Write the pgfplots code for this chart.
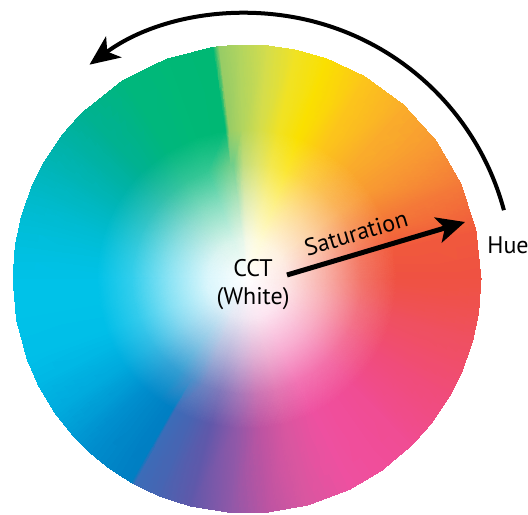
\documentclass[border=0pt]{standalone}
\usepackage{pgfplots}
\pgfplotsset{compat=1.18}
\usetikzlibrary{arrows.meta}
\usepackage{fontspec}
\setmainfont{PT Sans}
\definecolor{c0}{HTML}{EF5242}
\definecolor{c1}{HTML}{F15A3C}
\definecolor{c2}{HTML}{F47A38}
\definecolor{c3}{HTML}{F89A32}
\definecolor{c4}{HTML}{FAAE2A}
\definecolor{c5}{HTML}{FCC61A}
\definecolor{c6}{HTML}{FAE000}
\definecolor{c7}{HTML}{F0E224}
\definecolor{c8}{HTML}{D4DD4C}
\definecolor{c9}{HTML}{B0D460}
\definecolor{c10}{HTML}{96CC66}
\definecolor{c11}{HTML}{00B874}
\definecolor{c12}{HTML}{00B977}
\definecolor{c13}{HTML}{00B67E}
\definecolor{c14}{HTML}{00B193}
\definecolor{c15}{HTML}{00B2A4}
\definecolor{c16}{HTML}{00B5B6}
\definecolor{c17}{HTML}{00B9C6}
\definecolor{c18}{HTML}{00BDD6}
\definecolor{c19}{HTML}{00C0E0}
\definecolor{c20}{HTML}{00C2E8}
\definecolor{c21}{HTML}{00C1E8}
\definecolor{c22}{HTML}{00BEE8}
\definecolor{c23}{HTML}{00B6E4}
\definecolor{c24}{HTML}{00AADD}
\definecolor{c25}{HTML}{009AD4}
\definecolor{c26}{HTML}{008CCC}
\definecolor{c27}{HTML}{0084C6}
\definecolor{c28}{HTML}{007DC2}
\definecolor{c29}{HTML}{3C6CB8}
\definecolor{c30}{HTML}{4864B2}
\definecolor{c31}{HTML}{6058AA}
\definecolor{c32}{HTML}{9058A8}
\definecolor{c33}{HTML}{BC54A2}
\definecolor{c34}{HTML}{DA56A0}
\definecolor{c35}{HTML}{EE50A0}
\definecolor{c36}{HTML}{F04E9A}
\definecolor{c37}{HTML}{F04C92}
\definecolor{c38}{HTML}{F04C86}
\definecolor{c39}{HTML}{F04C7A}
\definecolor{c40}{HTML}{F04E6C}
\definecolor{c41}{HTML}{EF5060}
\definecolor{c42}{HTML}{EF5150}
\definecolor{mA}{HTML}{4BC26D}
\definecolor{mB}{HTML}{1E74BD}
\begin{document}
\begin{tikzpicture}
\begin{axis}[
  x=0.5pt, y=0.5pt,
  xmin=-247, xmax=281, ymin=-235, ymax=279,
  hide axis, clip=false,
]
\addplot[surf, shader=interp, mesh/color input=explicit, mesh/cols=6, data cs=polar]
table[x=a, y=r, meta=c] {
a r c
0 0 color=white
0 40 color=c0!15!white
0 80 color=c0!47!white
0 115 color=c0!80!white
0 150 color=c0
0 234 color=c0

12 0 color=white
12 40 color=c1!15!white
12 80 color=c1!47!white
12 115 color=c1!80!white
12 150 color=c1
12 234 color=c1

24 0 color=white
24 40 color=c2!15!white
24 80 color=c2!47!white
24 115 color=c2!80!white
24 150 color=c2
24 234 color=c2

36 0 color=white
36 40 color=c3!15!white
36 80 color=c3!47!white
36 115 color=c3!80!white
36 150 color=c3
36 234 color=c3

48 0 color=white
48 40 color=c4!15!white
48 80 color=c4!47!white
48 115 color=c4!80!white
48 150 color=c4
48 234 color=c4

60 0 color=white
60 40 color=c5!15!white
60 80 color=c5!47!white
60 115 color=c5!80!white
60 150 color=c5
60 234 color=c5

70 0 color=white
70 40 color=c6!15!white
70 80 color=c6!47!white
70 115 color=c6!80!white
70 150 color=c6
70 234 color=c6

78 0 color=white
78 40 color=c7!15!white
78 80 color=c7!47!white
78 115 color=c7!80!white
78 150 color=c7
78 234 color=c7

85 0 color=white
85 40 color=c8!15!white
85 80 color=c8!47!white
85 115 color=c8!80!white
85 150 color=c8
85 234 color=c8

92 0 color=white
92 40 color=c9!15!white
92 80 color=c9!47!white
92 115 color=c9!80!white
92 150 color=c9
92 234 color=c9

97 0 color=white
97 40 color=mA!15!white
97 80 color=mA!47!white
97 115 color=mA!80!white
97 150 color=c10
97 234 color=c10

98.5 0 color=white
98.5 40 color=mA!15!white
98.5 80 color=mA!47!white
98.5 115 color=mA!80!white
98.5 150 color=c11
98.5 234 color=c11

110 0 color=white
110 40 color=c12!15!white
110 80 color=c12!47!white
110 115 color=c12!80!white
110 150 color=c12
110 234 color=c12

122 0 color=white
122 40 color=c13!15!white
122 80 color=c13!47!white
122 115 color=c13!80!white
122 150 color=c13
122 234 color=c13

135 0 color=white
135 40 color=c14!15!white
135 80 color=c14!47!white
135 115 color=c14!80!white
135 150 color=c14
135 234 color=c14

142 0 color=white
142 40 color=c15!15!white
142 80 color=c15!47!white
142 115 color=c15!80!white
142 150 color=c15
142 234 color=c15

150 0 color=white
150 40 color=c16!15!white
150 80 color=c16!47!white
150 115 color=c16!80!white
150 150 color=c16
150 234 color=c16

157 0 color=white
157 40 color=c17!15!white
157 80 color=c17!47!white
157 115 color=c17!80!white
157 150 color=c17
157 234 color=c17

165 0 color=white
165 40 color=c18!15!white
165 80 color=c18!47!white
165 115 color=c18!80!white
165 150 color=c18
165 234 color=c18

172 0 color=white
172 40 color=c19!15!white
172 80 color=c19!47!white
172 115 color=c19!80!white
172 150 color=c19
172 234 color=c19

180 0 color=white
180 40 color=c20!15!white
180 80 color=c20!47!white
180 115 color=c20!80!white
180 150 color=c20
180 234 color=c20

190 0 color=white
190 40 color=c21!15!white
190 80 color=c21!47!white
190 115 color=c21!80!white
190 150 color=c21
190 234 color=c21

200 0 color=white
200 40 color=c22!15!white
200 80 color=c22!47!white
200 115 color=c22!80!white
200 150 color=c22
200 234 color=c22

207 0 color=white
207 40 color=c23!15!white
207 80 color=c23!47!white
207 115 color=c23!80!white
207 150 color=c23
207 234 color=c23

215 0 color=white
215 40 color=c24!15!white
215 80 color=c24!47!white
215 115 color=c24!80!white
215 150 color=c24
215 234 color=c24

222 0 color=white
222 40 color=c25!15!white
222 80 color=c25!47!white
222 115 color=c25!80!white
222 150 color=c25
222 234 color=c25

228 0 color=white
228 40 color=c26!15!white
228 80 color=c26!47!white
228 115 color=c26!80!white
228 150 color=c26
228 234 color=c26

234 0 color=white
234 40 color=c27!15!white
234 80 color=c27!47!white
234 115 color=c27!80!white
234 150 color=c27
234 234 color=c27

240.5 0 color=white
240.5 40 color=mB!15!white
240.5 80 color=mB!47!white
240.5 115 color=mB!80!white
240.5 150 color=c28
240.5 234 color=c28

241.5 0 color=white
241.5 40 color=mB!15!white
241.5 80 color=mB!47!white
241.5 115 color=mB!80!white
241.5 150 color=c29
241.5 234 color=c29

248 0 color=white
248 40 color=c30!15!white
248 80 color=c30!47!white
248 115 color=c30!80!white
248 150 color=c30
248 234 color=c30

256 0 color=white
256 40 color=c31!15!white
256 80 color=c31!47!white
256 115 color=c31!80!white
256 150 color=c31
256 234 color=c31

266 0 color=white
266 40 color=c32!15!white
266 80 color=c32!47!white
266 115 color=c32!80!white
266 150 color=c32
266 234 color=c32

275 0 color=white
275 40 color=c33!15!white
275 80 color=c33!47!white
275 115 color=c33!80!white
275 150 color=c33
275 234 color=c33

285 0 color=white
285 40 color=c34!15!white
285 80 color=c34!47!white
285 115 color=c34!80!white
285 150 color=c34
285 234 color=c34

296 0 color=white
296 40 color=c35!15!white
296 80 color=c35!47!white
296 115 color=c35!80!white
296 150 color=c35
296 234 color=c35

305 0 color=white
305 40 color=c36!15!white
305 80 color=c36!47!white
305 115 color=c36!80!white
305 150 color=c36
305 234 color=c36

315 0 color=white
315 40 color=c37!15!white
315 80 color=c37!47!white
315 115 color=c37!80!white
315 150 color=c37
315 234 color=c37

322 0 color=white
322 40 color=c38!15!white
322 80 color=c38!47!white
322 115 color=c38!80!white
322 150 color=c38
322 234 color=c38

330 0 color=white
330 40 color=c39!15!white
330 80 color=c39!47!white
330 115 color=c39!80!white
330 150 color=c39
330 234 color=c39

337 0 color=white
337 40 color=c40!15!white
337 80 color=c40!47!white
337 115 color=c40!80!white
337 150 color=c40
337 234 color=c40

345 0 color=white
345 40 color=c41!15!white
345 80 color=c41!47!white
345 115 color=c41!80!white
345 150 color=c41
345 234 color=c41

352 0 color=white
352 40 color=c42!15!white
352 80 color=c42!47!white
352 115 color=c42!80!white
352 150 color=c42
352 234 color=c42

360 0 color=white
360 40 color=c0!15!white
360 80 color=c0!47!white
360 115 color=c0!80!white
360 150 color=c0
360 234 color=c0
};
% Hue arrow
\draw[line width=2pt, -{Stealth[length=15pt, width=13pt, inset=4pt]}]
  (axis cs:256.9,68.8) arc[start angle=15, end angle=126.3, radius=133pt];
% Saturation arrow
\draw[line width=2.5pt, -{Stealth[length=14pt, width=13pt, inset=3.5pt]}]
  (axis cs:40,4) -- (axis cs:218,57);
\node[font=\fontsize{12}{14}\selectfont, rotate=16.6] at (axis cs:109,46) {Saturation};
\node[font=\fontsize{12}{14}\selectfont, align=center] at (axis cs:6,-6) {CCT\\(White)};
\node[font=\fontsize{12}{14}\selectfont] at (axis cs:261,34) {Hue};
\end{axis}
\pgfresetboundingbox
\path[use as bounding box] (current axis.south west) rectangle (current axis.north east);
\end{tikzpicture}
\end{document}
